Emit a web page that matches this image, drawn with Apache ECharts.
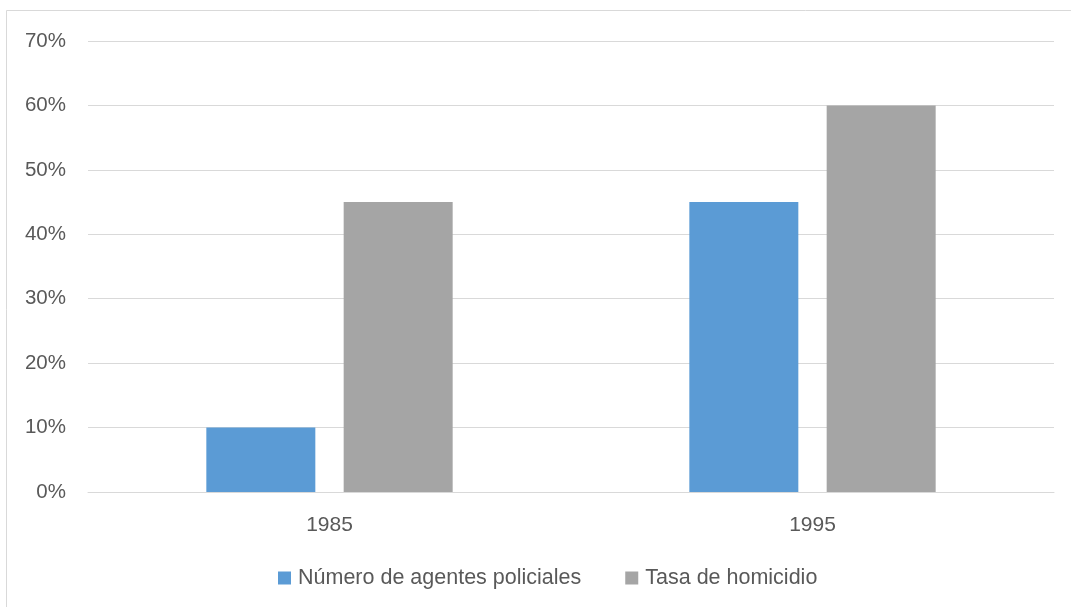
<!DOCTYPE html>
<html>
<head>
<meta charset="utf-8">
<script src="https://cdn.jsdelivr.net/npm/echarts@6/dist/echarts.min.js"></script>
<style>
html,body{margin:0;padding:0;background:#fff;}
#chart{width:1071px;height:607px;}
</style>
</head>
<body>
<div id="chart"></div>
<script>
var categories = ['1985', '1995'];
var seriesNames = ['Número de agentes policiales', 'Tasa de homicidio'];
var policeValues = [10, 45];
var homicideValues = [45, 60];
var yTicks = [0, 10, 20, 30, 40, 50, 60, 70];

var chart = echarts.init(document.getElementById('chart'));
var font = 'Liberation Sans';
chart.setOption({
  animation: false,
  backgroundColor: '#fff',
  graphic: [{
    type: 'rect',
    shape: {x: 6.5, y: 10.5, width: 1100, height: 700},
    style: {fill: 'none', stroke: '#D9D9D9', lineWidth: 1},
    silent: true
  }],
  grid: {left: 88, right: 17, top: 41, bottom: 115, containLabel: false},
  legend: {
    data: seriesNames,
    left: 278,
    top: 567,
    padding: 0,
    itemWidth: 13,
    itemHeight: 13,
    itemGap: 44,
    icon: 'rect',
    textStyle: {color: '#595959', fontSize: 21.5, fontFamily: font, padding: [0,0,0,2]}
  },
  xAxis: {
    type: 'category',
    data: categories,
    axisLine: {show: true, lineStyle: {color: '#D9D9D9', width: 1}},
    axisTick: {show: false},
    axisLabel: {color: '#595959', fontSize: 21, fontFamily: font, margin: 23}
  },
  yAxis: {
    type: 'value',
    min: yTicks[0],
    max: yTicks[yTicks.length - 1],
    interval: 10,
    axisLine: {show: false},
    axisTick: {show: false},
    splitLine: {lineStyle: {color: '#D9D9D9', width: 1}},
    axisLabel: {color: '#595959', fontSize: 20.5, fontFamily: font, margin: 22,
      padding: [5, 0, 0, 0],
      formatter: function (v) { return v + '%'; }}
  },
  series: [{
    name: seriesNames[0],
    type: 'bar',
    data: policeValues,
    barWidth: 109,
    barGap: '26%',
    itemStyle: {color: '#5B9BD5'}
  }, {
    name: seriesNames[1],
    type: 'bar',
    data: homicideValues,
    barWidth: 109,
    barGap: '26%',
    itemStyle: {color: '#A5A5A5'}
  }]
});
</script>
</body>
</html>
